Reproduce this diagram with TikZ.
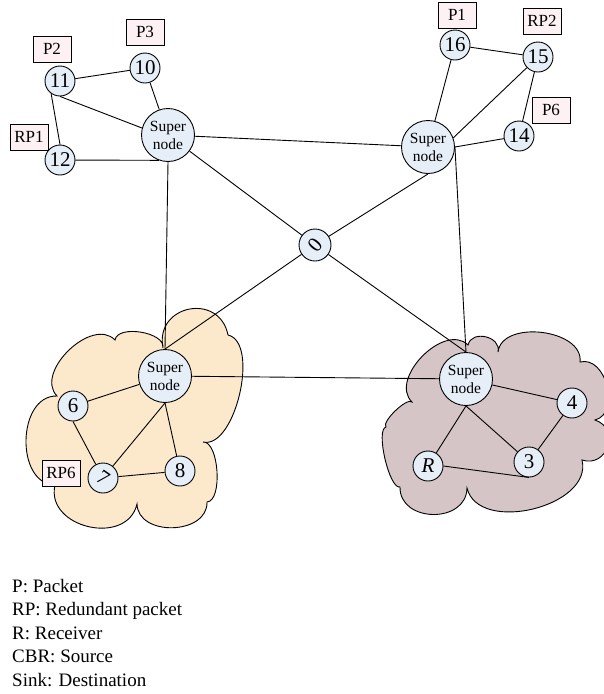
\documentclass[tikz,border=0pt]{standalone}
\usepackage{fontspec}
\setmainfont{Liberation Serif}
\usepackage{graphicx}
\usetikzlibrary{calc}
\definecolor{nodefill}{HTML}{E6EEF7}
\definecolor{boxfill}{HTML}{FDF1F3}
\definecolor{cloudA}{HTML}{FCE9CB}
\definecolor{cloudB}{HTML}{D5C5C6}
\tikzset{
  conn/.style={draw=black, line width=0.9pt},
  small/.style={circle, draw, line width=0.9pt, fill=nodefill, minimum size=30pt, inner sep=0pt, font=\fontsize{21}{21}\selectfont},
  super/.style={circle, draw, line width=0.9pt, fill=nodefill, minimum size=53pt, inner sep=0pt, align=center, font=\fontsize{15.5}{18}\selectfont},
  tag/.style={draw, line width=0.8pt, fill=boxfill, minimum width=38pt, minimum height=26pt, inner sep=1pt, font=\fontsize{17}{17}\selectfont},
  legend/.style={anchor=base west, inner sep=0pt, font=\fontsize{19}{19}\selectfont},
  bump/.style={to path={.. controls ($(\tikztostart)!#1!90:(\tikztotarget)$) and ($(\tikztotarget)!#1!-90:(\tikztostart)$) .. (\tikztotarget)}},
  cloudline/.style={draw=black, line width=0.9pt}
}
\begin{document}
\begin{tikzpicture}[x=1pt, y=-1pt]
\useasboundingbox (0,0) rectangle (604,694);
\clip (0,0) rectangle (604,694);
\fill[white] (0,0) rectangle (604,694);

% clouds
\filldraw[cloudline, fill=cloudA] (57,396) to[bump=33pt] (115,340) to[bump=16pt] (163,348)
  to[bump=44pt] (228,335) to[bump=33pt] (203,442) to[bump=16pt] (207,502)
  to[bump=33pt] (137,504) to[bump=44pt] (55,485) to[bump=40pt] (57,396) -- cycle;
\filldraw[cloudline, fill=cloudB] (386,427) to[bump=7pt] (412,402) to[bump=33pt] (468,345)
  to[bump=16pt] (498,352) to[bump=33pt] (580,362) to[bump=27pt] (595,420)
  to[bump=27pt] (582,460) to[bump=48pt] (467,488) to[bump=36pt] (400,487)
  to[bump=11pt] (386,427) -- cycle;

% nodes
\node[super] (SA) at (168,135) {Super\\node};
\node[super] (SB) at (428,147) {Super\\node};
\node[super] (SC) at (165,376) {Super\\node};
\node[super] (SD) at (466,379) {Super\\node};
\node[small] (n11) at (60,81) {11};
\node[small] (n10) at (145,68) {10};
\node[small] (n12) at (60,160) {12};
\node[small] (n16) at (455,45) {16};
\node[small] (n15) at (538,57) {15};
\node[small] (n14) at (519,136) {14};
\node[small, minimum size=32pt] (n0) at (315,245) {\rotatebox{50}{0}};
\node[small] (n6) at (73,406) {6};
\node[small] (n7) at (103,478) {\rotatebox{-35}{7}};
\node[small] (n8) at (180,471) {8};
\node[small] (n4) at (572,403) {4};
\node[small] (n3) at (529,462) {3};
\node[small] (nR) at (428,466) {\textit{R}};

% tags
\node[tag] (tP2) at (52,49) {P2};
\node[tag] (tP3) at (145,32) {P3};
\node[tag] (tRP1) at (29,137) {RP1};
\node[tag] (tP1) at (457,15) {P1};
\node[tag] (tRP2) at (542,21) {RP2};
\node[tag] (tP6) at (551,110) {P6};
\node[tag] (tRP6) at (61,473) {RP6};

% connectors
\begin{scope}[on background layer/.style={}]
\end{scope}
\draw[conn] (n11) -- (n10);
\draw[conn] (n11.south) -- (SA.165);
\draw[conn] (n11.235) -- (n12.north);
\draw[conn] (n10) -- (SA);
\draw[conn] (n12) -- (SA.250);
\draw[conn] (SA) -- (SB);
\draw[conn] (SA) -- (n0);
\draw[conn] (SA.south) -- (SC.north);
\draw[conn] (SB) -- (n16);
\draw[conn] (SB.20) -- (n15);
\draw[conn] (SB.east) -- (n14);
\draw[conn] (n16) -- (n15);
\draw[conn] (n15) -- (n14);
\draw[conn] (SB.south) -- (n0);
\draw[conn] (SB.east) -- (SD.north);
\draw[conn] (n0) -- (SC.north);
\draw[conn] (n0) -- (SD.north);
\draw[conn] (SC) -- (SD);
\draw[conn] (SC) -- (n6);
\draw[conn] (SC.south) -- (n7);
\draw[conn] (SC.south) -- (n8);
\draw[conn] (n6.south) -- (n7);
\draw[conn] (n7) -- (n8);
\draw[conn] (SD) -- (n4);
\draw[conn] (SD.south) -- (nR);
\draw[conn] (SD.south) -- (n3);
\draw[conn] (nR.east) -- (n3.south);
\draw[conn] (n3) -- (n4);

% legend
\node[legend] (l1) at (12,592) {P: Packet};
\node[legend] (l2) at (12,615.5) {RP: Redundant packet};
\node[legend] (l3) at (12,639) {R: Receiver};
\node[legend] (l4) at (12,662.5) {CBR: Source};
\node[legend] (l5) at (12,686) {Sink: Destination};
\end{tikzpicture}
\end{document}
